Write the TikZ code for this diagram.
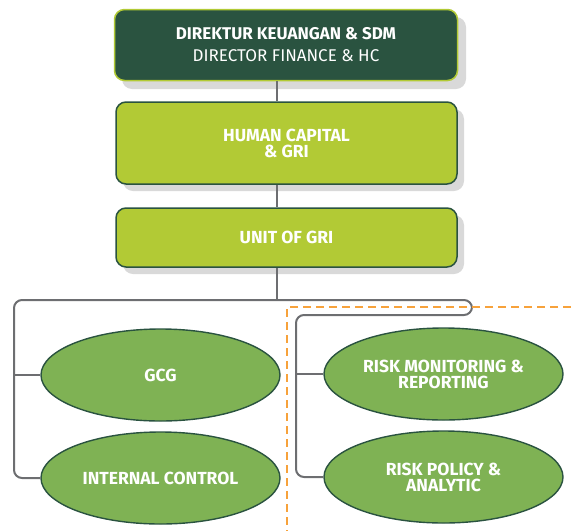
\documentclass[tikz,border=0pt]{standalone}
\usepackage{fontspec}
\setmainfont{Fira Sans}
\usetikzlibrary{shapes.geometric}
\definecolor{dkgreen}{HTML}{2A5340}
\definecolor{lime}{HTML}{B2CA35}
\definecolor{ellgreen}{HTML}{7FB254}
\definecolor{shadowgray}{HTML}{D9D9D9}
\definecolor{linegray}{HTML}{6D6E71}
\definecolor{dashorange}{HTML}{F7A23B}
\tikzset{
  boxshadow/.style={fill=shadowgray, rounded corners=10pt},
  topbox/.style={draw=lime, line width=1.5pt, fill=dkgreen, rounded corners=10pt, text=white, align=center, minimum width=343pt, minimum height=71pt, inner sep=0pt, font=\fontsize{17}{22}\selectfont},
  limebox/.style={draw=dkgreen, line width=1.5pt, fill=lime, rounded corners=10pt, text=white, align=center, minimum width=341pt, inner sep=0pt, font=\fontsize{17.5}{16}\selectfont\bfseries},
  oval/.style={ellipse, draw=dkgreen, line width=1.4pt, fill=ellgreen, text=white, align=center, minimum width=239pt, minimum height=92pt, inner sep=0pt, font=\fontsize{17.5}{16}\selectfont\bfseries},
  conn/.style={draw=linegray, line width=2pt},
  orangedash/.style={draw=dashorange, line width=2pt, dash pattern=on 8pt off 5pt}
}
\begin{document}
\begin{tikzpicture}[x=1pt,y=-1pt]
\useasboundingbox (0,0) rectangle (571,531);
% shadows
\fill[boxshadow] (122,17) rectangle (466,89);
\fill[boxshadow] (123,109) rectangle (464,191);
\fill[boxshadow] (123,215) rectangle (464,274);
% connector points
\coordinate (j) at (277,300);
\coordinate (lc) at (14,300);
\coordinate (rc) at (472,300);
\coordinate (rd) at (472,315);
\coordinate (ri) at (296,315);
% boxes
\node[topbox] (dir) at (286,45) {{\bfseries DIREKTUR KEUANGAN \& SDM}\\DIRECTOR FINANCE \& HC};
\node[limebox, minimum height=82pt] (hc) at (286.5,143) {HUMAN CAPITAL\\\& GRI};
\node[limebox, minimum height=59pt] (gri) at (286.5,237.5) {UNIT OF GRI};
\node[oval] (gcg) at (160.5,375) {GCG};
\node[oval] (ic) at (160.5,478) {INTERNAL CONTROL};
\node[oval] (rmr) at (443.5,374) {RISK MONITORING \&\\REPORTING};
\node[oval] (rpa) at (443.5,477) {RISK POLICY \&\\ANALYTIC};
% connectors
\draw[conn] (dir.south -| j) -- (hc.north -| j);
\draw[conn] (hc.south -| j) -- (gri.north -| j);
\draw[conn] (gri.south -| j) -- (j);
\draw[conn, rounded corners=8pt] (ic.west) -| (lc) -- (rc) -- (rd) -- (ri) |- (rpa.west);
\draw[conn] (gcg.west) -- (gcg.west -| lc);
\draw[conn] (rmr.west) -- (rmr.west -| ri);
\coordinate (o1) at (571,307);
\coordinate (o2) at (287,307);
\coordinate (o3) at (287,531);
\draw[orangedash] (o1) -- (o2) -- (o3);
\end{tikzpicture}
\end{document}
